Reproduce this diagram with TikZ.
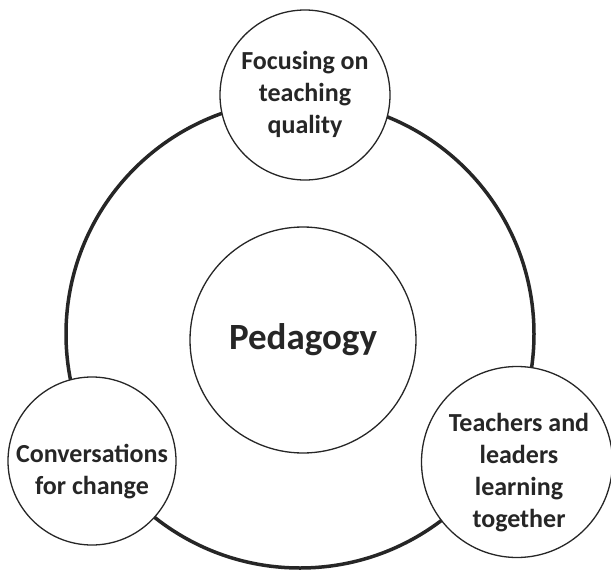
\documentclass[tikz,border=0pt]{standalone}
\usepackage{fontspec}
\setmainfont{Carlito}
\definecolor{ink}{HTML}{262626}
\begin{document}
\begin{tikzpicture}[x=1pt,y=-1pt,
  ringstyle/.style={circle, draw=ink, line width=3.5pt, inner sep=0},
  bubble/.style={circle, draw=ink, line width=1.3pt, fill=white, inner sep=0},
  lbl/.style={text=ink, font=\bfseries\fontsize{26}{32}\selectfont, align=center, inner sep=0},
  biglbl/.style={text=ink, font=\bfseries\fontsize{37}{40}\selectfont, align=center, inner sep=0},
]
\useasboundingbox (0,0) rectangle (611,570);
\node[ringstyle, minimum size=468pt] (ring) at (300,334) {};
\node[bubble, minimum size=226pt] (ped) at (303,340) {};
\node[bubble, minimum size=170pt] (topc) at (305,95) {};
\node[bubble, minimum size=168pt] (leftc) at (92,461) {};
\node[bubble, minimum size=191pt] (rightc) at (517,462) {};
\node[biglbl] (pedt) at (ped.center) {Pedagogy};
\node[lbl] (topt) at (305,94) {Focusing on\\teaching\\quality};
\node[lbl] (leftt) at (92,472) {Conversations\\for change};
\node[lbl] (rightt) at (519,473) {Teachers and\\leaders\\learning\\together};
\end{tikzpicture}
\end{document}
